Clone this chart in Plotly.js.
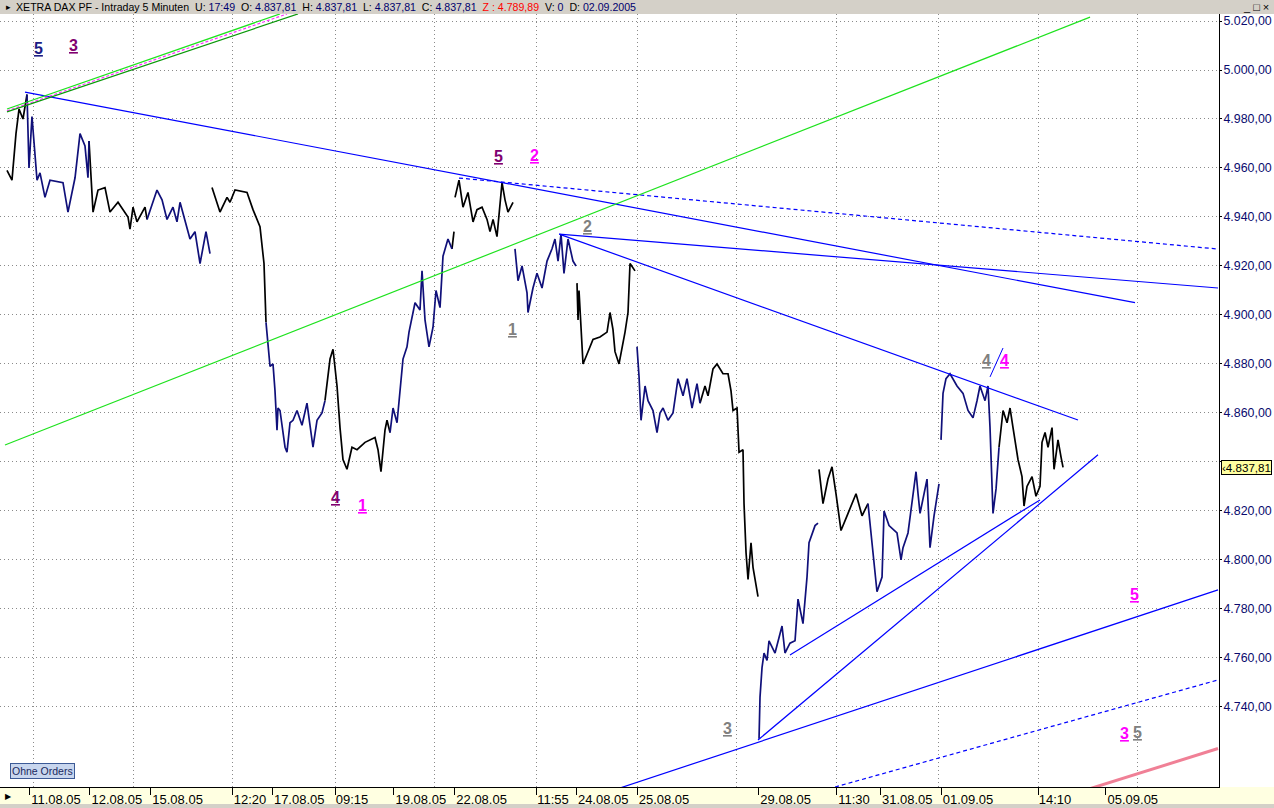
<!DOCTYPE html>
<html>
<head>
<meta charset="utf-8">
<script src="https://cdn.plot.ly/plotly-3.0.1.min.js"></script>
<style>
html,body{margin:0;padding:0;background:#fff;overflow:hidden;}
#chart{width:1274px;height:808px;}
</style>
</head>
<body>
<div id="chart"></div>
<script>
// ---------------- DATA ----------------
// x = trading-day index (0 = 11.08.05 open, 1 = 12.08.05, ...), null = overnight gap
const priceDay = [
 -0.362,-0.280,-0.214,-0.164,-0.099,-0.033,0.000,0.049,0.132,0.181,0.263,0.345,0.559,0.641,0.757,0.839,0.921,0.970,0.987,1.053,1.135,1.250,1.332,1.464,1.628,1.661,1.711,1.776,1.908,1.941,2.105,2.188,2.270,2.368,2.434,2.484,2.648,2.730,2.813,2.911,2.977,
 null,
 3.010,3.141,3.257,3.306,3.388,3.586,3.684,3.799,3.865,3.898,3.931,3.964,4.013,4.046,4.079,4.095,4.128,4.211,4.243,4.293,4.342,4.408,4.490,4.572,4.671,4.737,4.819,4.868,4.951,5.000,5.066,5.115,5.164,5.230,5.312,5.395,5.526,5.691,5.740,5.789,5.855,5.888,5.938,5.987,6.053,6.102,6.151,6.217,6.250,6.349,6.431,6.464,6.513,6.579,6.645,6.694,6.760,6.809,6.891,6.957,6.990,
 null,
 7.007,7.072,7.138,7.220,7.303,7.368,7.451,7.533,7.582,7.632,7.697,7.780,7.829,7.878,7.961,
 null,
 7.993,8.043,8.109,8.191,8.207,8.289,8.355,8.438,8.520,8.602,8.651,8.701,8.750,8.799,8.865,8.947,8.997,
 null,
 9.013,9.030,9.046,9.095,9.112,9.194,9.276,9.391,9.507,9.556,9.605,9.638,9.704,9.803,9.852,9.885,9.967,
 null,
 10.000,10.033,10.066,10.132,10.181,10.263,10.329,10.378,10.428,10.510,10.592,10.674,10.757,10.822,10.905,10.987,11.036,11.118,11.168,11.250,11.316,11.414,11.497,11.546,11.579,11.645,11.678,11.743,11.760,11.793,11.826,11.875,11.908,11.990,
 null,
 12.007,12.023,12.056,12.089,12.138,12.171,12.270,12.385,12.434,12.516,12.599,12.648,12.730,12.796,12.829,12.928,12.977,
 null,
 12.993,13.059,13.141,13.207,13.273,13.355,13.454,13.602,13.701,13.799,13.882,13.947,14.030,14.063,14.145,14.276,14.342,14.375,14.457,14.523,14.589,14.622,14.655,14.770,14.819,14.885,14.967,
 null,
 15.000,15.033,15.082,15.148,15.263,15.362,15.444,15.526,15.592,15.641,15.724,15.773,15.806,15.839,15.855,15.905,15.954,16.020,16.086,16.135,16.184,16.266,16.332,16.365,16.414,16.497,16.562,16.628,16.661,16.711,16.760,16.826,16.859,16.924,16.974,17.007
];
const priceValue = [
 4959,4955,4974,4984,4980,4990,4960,4981,4955,4958,4948,4955,4954,4942,4956,4974,4969,4956,4971,4942,4951,4952,4942,4946,4940,4935,4944,4938,4944,4939,4951,4947,4939,4944,4938,4946,4931,4934,4921,4934,4925,
 null,
 4952,4942,4948,4946,4951,4950,4943,4936,4921,4897,4886,4879,4880,4869,4853,4862,4861,4846,4844,4856,4857,4861,4855,4864,4846,4857,4860,4865,4882,4886,4871,4854,4841,4837,4846,4845,4848,4850,4845,4836,4853,4857,4852,4862,4856,4868,4882,4887,4893,4905,4902,4918,4898,4887,4895,4910,4903,4924,4931,4927,4934,
 null,
 4948,4955,4944,4950,4938,4943,4944,4939,4934,4939,4932,4954,4947,4942,4946,
 null,
 4927,4914,4920,4909,4901,4911,4917,4911,4922,4927,4931,4922,4933,4917,4931,4922,4920,
 null,
 4913,4898,4910,4891,4880,4885,4890,4891,4893,4901,4894,4885,4880,4893,4901,4921,4918,
 null,
 4887,4875,4857,4871,4865,4861,4852,4860,4862,4857,4860,4874,4867,4874,4862,4872,4864,4871,4867,4878,4880,4876,4876,4869,4861,4862,4844,4845,4823,4803,4792,4807,4797,4785,
 null,
 4727,4744,4756,4762,4759,4767,4762,4773,4762,4766,4767,4784,4774,4793,4807,4814,4815,
 null,
 4837,4823,4833,4838,4827,4812,4818,4827,4818,4823,4803,4787,4793,4820,4814,4811,4800,4805,4811,4823,4836,4827,4819,4833,4805,4818,4831,
 null,
 4849,4868,4874,4876,4871,4868,4861,4858,4865,4871,4865,4871,4854,4830,4819,4829,4846,4861,4856,4862,4854,4841,4834,4822,4830,4834,4826,4830,4848,4852,4846,4854,4837,4849,4842,4837.81
];
// day ranges where bars belong to a down leg
const downLegs = [[0.0,0.99],[2.04,2.98],[3.9,4.95],[5.94,6.99],[8.0,9.0],[10.0,11.1],[12.0,12.98],[13.8,16.0]];

// drawn trendlines: start/end (day, level) and tool kind
const trendX0 = [-0.066, 7.072, 8.72, 8.72, 15.806, 11.990, 12.516, 9.720, 13.257, 17.434, -0.395, -0.362, -0.362, -0.362];
const trendY0 = [4991.0, 4955.9, 4933.0, 4933.0, 4874.7, 4726.5, 4761.2, 4706.9, 4707.3, 4706.5, 4846.9, 4984.1, 4983.3, 4982.9];
const trendX1 = [18.191, 19.556, 19.556, 17.253, 16.020, 17.582, 16.628, 19.556, 19.556, 19.556, 17.451, 4.128, 4.243, 4.424];
const trendY1 = [4905.0, 4926.9, 4911.0, 4857.1, 4886.5, 4842.9, 4824.5, 4787.8, 4751.0, 4723.0, 5021.6, 5022.9, 5022.9, 5022.9];
const trendKind = ['trend','projection','trend','trend','marker','trend','trend','trend','projection','target','channel','channel','channelMid','channelLow'];

// Elliott wave counts
const waveText   = ['5','3','5','2','2','1','4','1','4','4','3','5','3','5'];
const waveDay    = [0.164,0.724,7.714,8.322,9.178,7.944,5.049,5.493,15.740,16.036,11.480,18.174,18.010,18.224];
const waveValue  = [5008.6,5010.2,4964.5,4964.9,4936.3,4893.9,4825.3,4822.4,4881.6,4881.6,4731.0,4785.7,4729.0,4729.4];
const waveDegree = ['primary','intermediate','intermediate','minor','minute','minute','intermediate','minor','minute','minor','minute','minor','minor','minute'];

// axis ticks
const yTicks = [4740,4760,4780,4800,4820,4840,4860,4880,4900,4920,4940,4960,4980,5000,5020];
const dateTickDay = [0,1,2,4,6,7,9,10,12,14,15,17.71];
const dateTickLabel = ['11.08.05','12.08.05','15.08.05','17.08.05','19.08.05','22.08.05','24.08.05','25.08.05','29.08.05','31.08.05','01.09.05','05.09.05'];
const timeTickDay = [3.355,5.033,8.339,13.289,16.595];
const timeTickLabel = ['12:20','09:15','11:55','11:30','14:10'];
const gridDay = [0.066,1.711,3.355,5.033,6.661,8.339,10.0,11.628,13.289,14.951,16.595,18.224];

// quote header
const quoteTitle = 'XETRA DAX PF - Intraday 5 Minuten';
const quoteKeys = ['U:','O:','H:','L:','C:','Z :','V:','D:'];
const quoteVals = ['17:49','4.837,81','4.837,81','4.837,81','4.837,81','4.789,89','0','02.09.2005'];
const lastPrice = 4837.81;

// ---------------- DRAWING ----------------
const W = 1274, H = 808, ML = 0, MR = 55, MT = 14, MB = 21;
const PW = W - ML - MR, PH = H - MT - MB;
const XR = [-0.477, 19.572], YR = [4707.3, 5022.86];
const FONT = '"Liberation Sans", Arial, sans-serif';
const NAVY = '#10107a';

function inDownLeg(d){ return downLegs.some(r => d >= r[0] && d < r[1]); }
const segs = []; let cur = null;
for (let i = 0; i < priceDay.length; i++) {
  const d = priceDay[i], v = priceValue[i];
  if (d === null || v === null) { cur = null; continue; }
  const down = inDownLeg(d);
  if (!cur || cur.down !== down) {
    const prev = cur ? [cur.x[cur.x.length-1], cur.y[cur.y.length-1]] : null;
    cur = {down, x: [], y: []}; segs.push(cur);
    if (prev) { cur.x.push(prev[0]); cur.y.push(prev[1]); }
  }
  cur.x.push(d); cur.y.push(v);
}
function merged(flag){
  const x = [], y = [];
  segs.filter(s => s.down === flag).forEach(s => { x.push(...s.x, null); y.push(...s.y, null); });
  return {x, y};
}
const up = merged(false), dn = merged(true);

const kindStyle = {
  trend:      {color:'#0000ff', width:1.2, dash:'solid', axis:'x2'},
  marker:     {color:'#0000ff', width:1, dash:'solid', axis:'x2'},
  projection: {color:'#0000ff', width:1.2, dash:'4px,3px', axis:'x2'},
  target:     {color:'#f08096', width:3, dash:'solid', axis:'x3'},
  channel:    {color:'#1ee21e', width:1.2, dash:'solid', axis:'x3'},
  channelMid: {color:'#ff30ff', width:1.2, dash:'3px,2px', axis:'x3'},
  channelLow: {color:'#0a9a0a', width:1.2, dash:'solid', axis:'x3'}
};

const traces = [];
trendKind.forEach((k, i) => {
  const s = kindStyle[k];
  traces.push({type:'scatter', mode:'lines', xaxis:s.axis, yaxis:'y',
    x:[trendX0[i], trendX1[i]], y:[trendY0[i], trendY1[i]],
    line:{color:s.color, width:s.width, dash:s.dash}, hoverinfo:'skip', showlegend:false});
});
traces.push({type:'scatter', mode:'lines', x:up.x, y:up.y, connectgaps:false,
  line:{color:'#000000', width:1.7}, hoverinfo:'skip', showlegend:false});
traces.push({type:'scatter', mode:'lines', x:dn.x, y:dn.y, connectgaps:false,
  line:{color:NAVY, width:1.7}, hoverinfo:'skip', showlegend:false});

const degreeColor = {primary:'#1c1c84', intermediate:'#800070', minor:'#ff00ff', minute:'#808080'};
const annotations = waveText.map((t, i) => ({
  xref:'x', yref:'y', x:waveDay[i], y:waveValue[i], text:'<b><u>' + t + '</u></b>',
  showarrow:false, font:{family:FONT, size:16, color:degreeColor[waveDegree[i]]},
  xanchor:'center', yanchor:'middle'
}));

// header
const sp = '\u00a0\u00a0';
let head = quoteTitle + sp;
quoteKeys.forEach((k, i) => {
  const red = k.startsWith('Z');
  const kc = red ? '#ff0000' : '#000000';
  const vc = red ? '#ff0000' : '#00006e';
  head += '<span style="color:' + kc + '">' + k + '</span>\u00a0<span style="color:' + vc + '">' + quoteVals[i] + '</span>' + sp;
});
annotations.push({xref:'paper', yref:'paper', x:14/PW, y:1 + 7/PH, xanchor:'left', yanchor:'middle',
  text:head, showarrow:false, font:{family:FONT, size:10.6, color:'#000'}});
annotations.push({xref:'paper', yref:'paper', x:4/PW, y:1 + 7/PH, xanchor:'left', yanchor:'middle',
  text:'\u25B8', showarrow:false, font:{family:FONT, size:9, color:'#000'}});
annotations.push({xref:'paper', yref:'paper', x:(W-3)/PW, y:1 + 7/PH, xanchor:'right', yanchor:'middle',
  text:'_\u00a0\u25A1\u00a0\u00d7', showarrow:false, font:{family:FONT, size:11, color:'#000'}});
// bottom band arrow
annotations.push({xref:'paper', yref:'paper', x:3/PW, y:-9/PH, xanchor:'left', yanchor:'middle',
  text:'\u25B6', showarrow:false, font:{family:FONT, size:8, color:'#000'}});
// Ohne Orders button
annotations.push({xref:'paper', yref:'paper', x:10/PW, y:8/PH, xanchor:'left', yanchor:'bottom',
  text:'Ohne Orders', showarrow:false, bgcolor:'#c8d6ee', bordercolor:'#3c5a96', borderwidth:1, borderpad:1,
  font:{family:FONT, size:10.5, color:'#1a2a60'}});

const fmt = v => { const s = v.toFixed(2).replace('.', ','); return s.replace(/^(\d)(\d{3})/, '$1.$2'); };

// last price tag (covers the neighbouring axis label, as in the terminal)
annotations.push({xref:'paper', yref:'y', x:1 + 2/PW, y:lastPrice, xanchor:'left', yanchor:'middle',
  text:'\u2039' + fmt(lastPrice), showarrow:false,
  bgcolor:'#ffffa0', bordercolor:'#000', borderwidth:1, borderpad:0,
  font:{family:FONT, size:11.6, color:'#000'}});

const coveredTick = yTicks.reduce((a, b) => Math.abs(b - lastPrice) < Math.abs(a - lastPrice) ? b : a);

const shapes = [
  {type:'rect', xref:'paper', yref:'paper', x0:-0.01, x1:W/PW + 0.01, y0:1, y1:1 + (MT+1)/PH,
   fillcolor:'#d4d0c8', line:{width:0}, layer:'below'},
  {type:'rect', xref:'paper', yref:'paper', x0:-0.01, x1:W/PW + 0.01, y0:-MB/PH, y1:0,
   fillcolor:'#ffffe1', line:{width:0}, layer:'below'},
  {type:'rect', xref:'paper', yref:'paper', x0:-0.01, x1:W/PW + 0.01, y0:-(MB+2)/PH, y1:-(MB-4)/PH,
   fillcolor:'#d4d0c8', line:{width:0}, layer:'below'}
];

const baseX = {range:XR, autorange:false, zeroline:false, fixedrange:true, showgrid:false};
const layout = {
  width:W, height:H, margin:{l:ML, r:MR, t:MT, b:MB, pad:0},
  paper_bgcolor:'#ffffff', plot_bgcolor:'#ffffff', showlegend:false,
  font:{family:FONT, size:13, color:'#000'},
  xaxis: Object.assign({}, baseX, {
    tickmode:'array', tickvals:gridDay, ticktext:gridDay.map(() => ''), showticklabels:false,
    ticks:'', showgrid:true, gridcolor:'#8a8a8a', gridwidth:1, griddash:'1px,3px',
    showline:true, linecolor:'#000', linewidth:1
  }),
  xaxis2: Object.assign({}, baseX, {
    overlaying:'x', anchor:'y', side:'bottom',
    tickmode:'array', tickvals:dateTickDay, ticktext:dateTickLabel,
    ticks:'outside', ticklen:7, tickcolor:'#000', tickwidth:1,
    ticklabelshift:27, ticklabelstandoff:-7, tickfont:{family:FONT, size:13, color:'#000'}
  }),
  xaxis3: Object.assign({}, baseX, {
    overlaying:'x', anchor:'y', side:'bottom',
    tickmode:'array', tickvals:timeTickDay, ticktext:timeTickLabel,
    ticks:'outside', ticklen:7, tickcolor:'#000', tickwidth:1,
    ticklabelshift:17, ticklabelstandoff:-7, tickfont:{family:FONT, size:13, color:'#000'}
  }),
  yaxis: {
    range:YR, autorange:false, side:'right', fixedrange:true, zeroline:false,
    tickmode:'array', tickvals:yTicks,
    ticktext:yTicks.map(v => v === coveredTick ? '' : fmt(v)),
    showgrid:true, gridcolor:'#8a8a8a', gridwidth:1, griddash:'1px,3px',
    ticks:'outside', ticklen:2, tickcolor:'#000', ticklabelstandoff:-1,
    showline:true, linecolor:'#000', linewidth:1,
    tickfont:{family:FONT, size:12.4, color:'#0a0a6e'}
  },
  shapes, annotations
};

Plotly.newPlot('chart', traces, layout, {displayModeBar:false, staticPlot:true});
</script>
</body>
</html>
